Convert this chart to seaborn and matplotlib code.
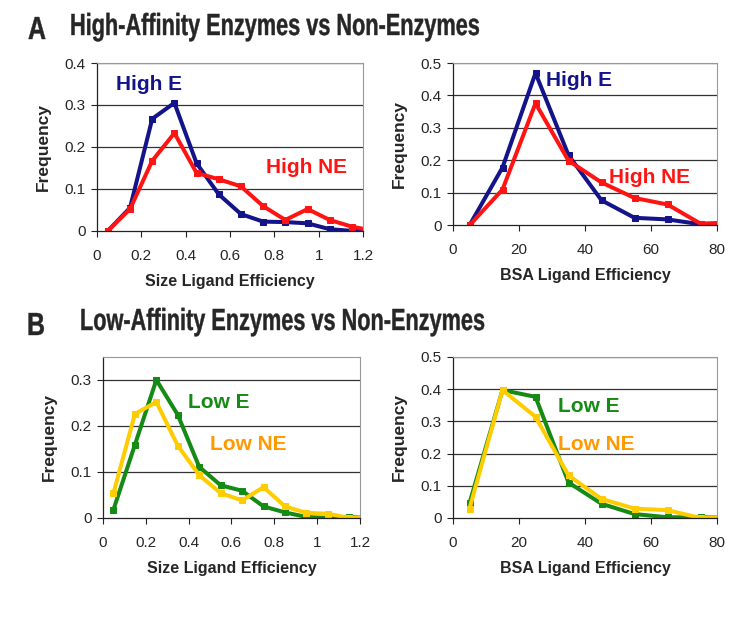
import numpy as np
import pandas as pd
import seaborn as sns
import matplotlib.pyplot as plt
from matplotlib.patheffects import AbstractPathEffect
from matplotlib.transforms import Affine2D

# bin centres (last one lies past the axis end, the line runs off the edge)
size_x = [0.05, 0.15, 0.25, 0.35, 0.45, 0.55, 0.65, 0.75, 0.85, 0.95, 1.05, 1.15, 1.25]
bsa_x = [5, 15, 25, 35, 45, 55, 65, 75, 85]

high_e_size = [0.0, 0.055, 0.267, 0.305, 0.161, 0.087, 0.040, 0.022, 0.021, 0.018, 0.004, 0.0, 0.008]
high_ne_size = [0.0, 0.052, 0.167, 0.233, 0.138, 0.123, 0.106, 0.059, 0.026, 0.052, 0.026, 0.010, 0.0]
high_e_bsa = [0.0, 0.178, 0.469, 0.216, 0.077, 0.023, 0.018, 0.003, 0.003]
high_ne_bsa = [0.0, 0.110, 0.376, 0.199, 0.132, 0.084, 0.064, 0.005, 0.009]

low_e_size = [0.018, 0.159, 0.300, 0.224, 0.111, 0.071, 0.059, 0.025, 0.012, 0.002, 0.0, 0.002, 0.0]
low_ne_size = [0.054, 0.226, 0.252, 0.157, 0.093, 0.054, 0.038, 0.067, 0.025, 0.011, 0.009, 0.0, 0.002]
low_e_bsa = [0.046, 0.397, 0.376, 0.110, 0.044, 0.012, 0.002, 0.002, 0.0]
low_ne_bsa = [0.029, 0.397, 0.314, 0.132, 0.059, 0.029, 0.024, 0.0, 0.0]

NAVY = "#14148a"
RED = "#ff1414"
GREEN = "#158a15"
YELLOW = "#ffcc00"
ORANGE = "#ff9900"

sns.set_theme(style="white")
plt.rcParams['font.family'] = ['Liberation Sans', 'DejaVu Sans']


class Squeeze(AbstractPathEffect):
    # narrows the glyphs horizontally and thickens them a bit, like a condensed bold face
    def __init__(self, sx, stroke=0.0):
        super().__init__()
        self.sx = sx
        self.stroke = stroke

    def draw_path(self, renderer, gc, tpath, affine, rgbFace=None):
        x0 = affine.get_matrix()[0, 2]
        a = affine + Affine2D().translate(-x0, 0).scale(self.sx, 1).translate(x0, 0)
        gc0 = renderer.new_gc()
        gc0.copy_properties(gc)
        if self.stroke > 0 and rgbFace is not None:
            gc0.set_linewidth(self.stroke)
            gc0.set_foreground(rgbFace)
        renderer.draw_path(gc0, tpath, a, rgbFace)
        gc0.restore()


def style_axes(ax, xlim, xticks, ylim, yticks, xlabel):
    ax.set_xlim(*xlim)
    ax.set_ylim(*ylim)
    ax.set_xticks(xticks)
    ax.set_yticks(yticks)
    ax.set_xticklabels([f"{t:g}" for t in xticks], fontsize=11)
    ax.set_yticklabels([f"{t:g}" for t in yticks], fontsize=11)
    ax.set_xlabel(xlabel, fontsize=11.5, fontweight='bold', labelpad=8)
    ax.set_ylabel("Frequency", fontsize=12.5, fontweight='bold', labelpad=10)
    for t in yticks[1:]:
        ax.axhline(t, color='#333333', lw=0.9, zorder=0)
    for s in ['top', 'right']:
        ax.spines[s].set_color('#999999')
        ax.spines[s].set_linewidth(0.8)
    for s in ['left', 'bottom']:
        ax.spines[s].set_color('#222222')
        ax.spines[s].set_linewidth(0.9)
    ax.tick_params(direction='out', length=4, width=0.8, color='#222222',
                   bottom=True, left=True)
    ax.tick_params(axis='x', pad=9)
    ax.tick_params(axis='y', pad=4)


def draw(ax, x, y, color):
    sns.lineplot(x=x, y=y, ax=ax, color=color, lw=2.9, marker='s',
                 markersize=5, markeredgecolor=color, sort=False)


def label(ax, x, y, s, color):
    ax.text(x, y, s, color=color, fontsize=15, fontweight='bold', va='center')


fig = plt.figure(figsize=(7.5, 6.24), dpi=100)

ax1 = fig.add_axes([0.129, 0.630, 0.355, 0.269])
ax2 = fig.add_axes([0.604, 0.639, 0.352, 0.260])
ax3 = fig.add_axes([0.137, 0.170, 0.343, 0.258])
ax4 = fig.add_axes([0.604, 0.170, 0.352, 0.258])

draw(ax1, size_x, high_e_size, NAVY)
draw(ax1, size_x, high_ne_size, RED)
style_axes(ax1, (0, 1.2), [0, 0.2, 0.4, 0.6, 0.8, 1, 1.2], (0, 0.4),
           [0, 0.1, 0.2, 0.3, 0.4], "Size Ligand Efficiency")
label(ax1, 0.085, 0.348, "High E", NAVY)
label(ax1, 0.765, 0.152, "High NE", RED)

draw(ax2, bsa_x, high_e_bsa, NAVY)
draw(ax2, bsa_x, high_ne_bsa, RED)
style_axes(ax2, (0, 80), [0, 20, 40, 60, 80], (0, 0.5),
           [0, 0.1, 0.2, 0.3, 0.4, 0.5], "BSA Ligand Efficiency")
label(ax2, 28.2, 0.446, "High E", NAVY)
label(ax2, 47.4, 0.146, "High NE", RED)

draw(ax3, size_x, low_e_size, GREEN)
draw(ax3, size_x, low_ne_size, YELLOW)
style_axes(ax3, (0, 1.2), [0, 0.2, 0.4, 0.6, 0.8, 1, 1.2], (0, 0.35),
           [0, 0.1, 0.2, 0.3], "Size Ligand Efficiency")
label(ax3, 0.40, 0.251, "Low E", GREEN)
label(ax3, 0.50, 0.159, "Low NE", ORANGE)

draw(ax4, bsa_x, low_e_bsa, GREEN)
draw(ax4, bsa_x, low_ne_bsa, YELLOW)
style_axes(ax4, (0, 80), [0, 20, 40, 60, 80], (0, 0.5),
           [0, 0.1, 0.2, 0.3, 0.4, 0.5], "BSA Ligand Efficiency")
label(ax4, 31.8, 0.345, "Low E", GREEN)
label(ax4, 31.8, 0.227, "Low NE", ORANGE)

# panel headings (condensed bold look)
narrow = [Squeeze(0.71, stroke=0.3)]
fig.text(28 / 750, 1 - 31 / 624, "A", fontsize=23, fontweight='bold', va='center',
         path_effects=[Squeeze(0.78, stroke=0.3)])
fig.text(70 / 750, 1 - 27 / 624, "High-Affinity Enzymes vs Non-Enzymes", fontsize=22,
         fontweight='bold', va='center', path_effects=narrow)
fig.text(27 / 750, 1 - 327 / 624, "B", fontsize=23, fontweight='bold', va='center',
         path_effects=[Squeeze(0.78, stroke=0.3)])
fig.text(80 / 750, 1 - 322 / 624, "Low-Affinity Enzymes vs Non-Enzymes", fontsize=22,
         fontweight='bold', va='center', path_effects=narrow)

fig.savefig("out.png", dpi=100, facecolor='white')
